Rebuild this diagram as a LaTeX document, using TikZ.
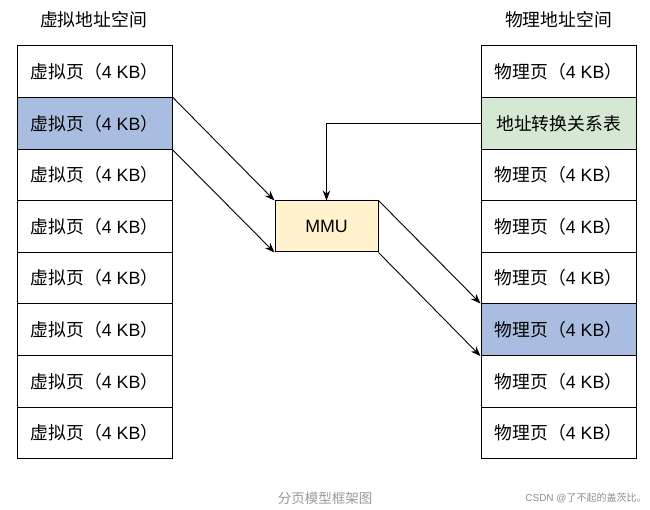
\documentclass[tikz,border=0pt]{standalone}
\usepackage{fontspec}
\setmainfont{Liberation Sans}
\newfontfamily\cjk{Noto Sans CJK SC}
\usepackage{xcolor}
\usetikzlibrary{arrows.meta, positioning}
\definecolor{pageblue}{HTML}{A9BDE0}
\definecolor{tablegreen}{HTML}{D5E8D4}
\definecolor{mmuyellow}{HTML}{FFF2CC}
\newcommand{\kbsize}{{\cjk （}4 KB{\cjk ）}}
\tikzset{
  pagebox/.style={draw, line width=1pt, minimum width=155pt, minimum height=51.6pt, inner sep=0pt, font=\fontsize{17.8}{20}\selectfont},
  arr/.style={-{Stealth[length=10pt,width=7.5pt]}, line width=0.9pt},
}

\begin{document}
\begin{tikzpicture}[x=1pt, y={(0pt,-1pt)}]
      \useasboundingbox (0,0) rectangle (650,510);
      % titles
      \node[font=\cjk\fontsize{17.8}{20}\selectfont] (vtitle) at (93.5,20) {虚拟地址空间};
      \node[font=\cjk\fontsize{17.8}{20}\selectfont] (ptitle) at (558.5,20) {物理地址空间};

      % virtual pages
      \foreach \i/\c in {1/white,2/pageblue,3/white,4/white,5/white,6/white,7/white,8/white} {
        \node[pagebox, fill=\c] (v\i) at (94.5,{46+51.6*(\i-0.5)}) {{\cjk 虚拟页}\kbsize};
      }

      % physical pages
      \foreach \i/\c in {1/white,3/white,4/white,5/white,6/pageblue,7/white,8/white} {
        \node[pagebox, fill=\c] (p\i) at (558.5,{46+51.6*(\i-0.5)}) {{\cjk 物理页}\kbsize};
      }
      \node[pagebox, fill=tablegreen] (p2) at (558.5,{46+51.6*1.5}) {\cjk 地址转换关系表};

      % mmu
      \node[pagebox, fill=mmuyellow, minimum width=103pt, minimum height=51pt] (mmu) at (326.5,226.5) {MMU};

      \draw[arr] (v2.north east) -- (mmu.north west);
      \draw[arr] (v2.south east) -- (mmu.south west);
      \draw[arr] (p2.west) -| (mmu.north);
      \draw[arr] (mmu.north east) -- (p6.north west);
      \draw[arr] (mmu.south east) -- (p6.south west);

      % caption
      \node[text=black!40, font=\cjk\fontsize{13.5}{16}\selectfont] (caption) at (325,498) {分页模型框架图};
      \node[text=black!45, font=\fontsize{10}{12}\selectfont] (mark) at (586,498) {CSDN @{\cjk 了不起的盖茨比。}};
  \end{tikzpicture}
\end{document}
